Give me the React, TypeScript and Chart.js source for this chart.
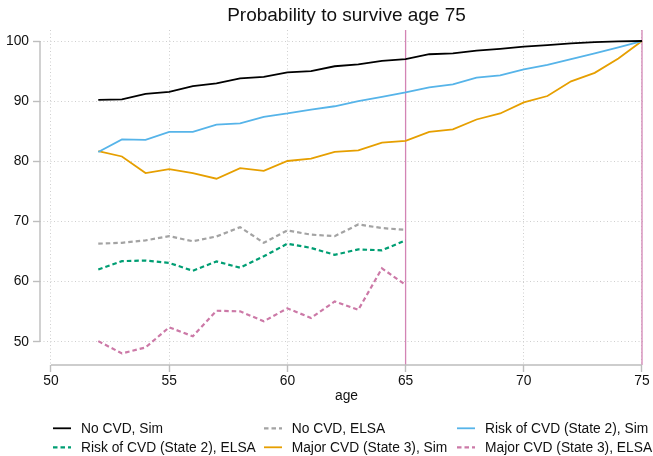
import React, { useEffect, useRef } from "react";
import { Chart, registerables } from "chart.js";

Chart.register(...registerables);

// ---- data ----
const simAges = [52, 53, 54, 55, 56, 57, 58, 59, 60, 61, 62, 63, 64, 65, 66, 67, 68, 69, 70, 71, 72, 73, 74, 75];
const elsaAges = [52, 53, 54, 55, 56, 57, 58, 59, 60, 61, 62, 63, 64, 65];

const noCvdSim = [90.2, 90.3, 91.2, 91.55, 92.5, 92.95, 93.8, 94.05, 94.8, 95.0, 95.8, 96.1, 96.7, 97.0, 97.8, 97.95, 98.4, 98.7, 99.05, 99.3, 99.6, 99.8, 99.95, 100];
const riskSim = [81.55, 83.65, 83.55, 84.9, 84.9, 86.1, 86.3, 87.4, 87.95, 88.6, 89.15, 90.0, 90.7, 91.45, 92.3, 92.8, 93.9, 94.3, 95.3, 96.05, 97.0, 97.95, 98.95, 100];
const majorSim = [81.7, 80.8, 78.05, 78.7, 78.05, 77.1, 78.85, 78.4, 80.05, 80.45, 81.55, 81.8, 83.1, 83.4, 84.9, 85.3, 86.95, 87.95, 89.8, 90.85, 93.3, 94.7, 97.1, 100];

const noCvdElsa = [66.3, 66.45, 66.85, 67.55, 66.7, 67.5, 69.05, 66.45, 68.5, 67.8, 67.55, 69.5, 68.9, 68.6];
const riskElsa = [62.0, 63.4, 63.5, 63.1, 61.8, 63.35, 62.3, 64.2, 66.3, 65.6, 64.45, 65.35, 65.2, 66.85];
const majorElsa = [50.1, 48.05, 49.05, 52.4, 50.9, 55.15, 55.05, 53.4, 55.55, 53.95, 56.7, 55.3, 62.2, 59.45];

const xTicks = [50, 55, 60, 65, 70, 75];
const yTicks = [50, 60, 70, 80, 90, 100];
const xLines = [65, 75];

const titleText = "Probability to survive age 75";
const xTitle = "age";

const FONT = '"Liberation Sans", Arial, Helvetica, sans-serif';
const AXIS_GRAY = "#bdbdbd";
const TEXT = "#111111";

type Series = { label: string; ages: number[]; values: number[]; color: string; dashed: boolean };

const series: Series[] = [
  { label: "No CVD, Sim", ages: simAges, values: noCvdSim, color: "#000000", dashed: false },
  { label: "No CVD, ELSA", ages: elsaAges, values: noCvdElsa, color: "#a3a3a3", dashed: true },
  { label: "Risk of CVD (State 2), Sim", ages: simAges, values: riskSim, color: "#56B4E9", dashed: false },
  { label: "Risk of CVD (State 2), ELSA", ages: elsaAges, values: riskElsa, color: "#009E73", dashed: true },
  { label: "Major CVD (State 3), Sim", ages: simAges, values: majorSim, color: "#E69F00", dashed: false },
  { label: "Major CVD (State 3), ELSA", ages: elsaAges, values: majorElsa, color: "#CC79A7", dashed: true },
];

const DASH = [4.5, 3];

const decor = {
  id: "decor",
  beforeDatasetsDraw(chart: any) {
    const ctx = chart.ctx;
    const { top, bottom, left } = chart.chartArea;
    const xs = chart.scales.x;
    const ys = chart.scales.y;
    ctx.save();
    // reference lines
    ctx.strokeStyle = "#d384b4";
    ctx.lineWidth = 1.3;
    xLines.forEach((v) => {
      const px = xs.getPixelForValue(v);
      ctx.beginPath();
      ctx.moveTo(px, top);
      ctx.lineTo(px, bottom);
      ctx.stroke();
    });
    // axis lines spanning tick range
    ctx.strokeStyle = AXIS_GRAY;
    ctx.lineWidth = 1.4;
    ctx.beginPath();
    ctx.moveTo(left, ys.getPixelForValue(yTicks[yTicks.length - 1]));
    ctx.lineTo(left, ys.getPixelForValue(yTicks[0]));
    ctx.stroke();
    ctx.beginPath();
    ctx.moveTo(xs.getPixelForValue(xTicks[0]), bottom);
    ctx.lineTo(xs.getPixelForValue(xTicks[xTicks.length - 1]), bottom);
    ctx.stroke();
    ctx.restore();
  },
  afterDraw(chart: any) {
    const ctx = chart.ctx;
    const xs = chart.scales.x;
    const cx = (xs.getPixelForValue(xTicks[0]) + xs.getPixelForValue(xTicks[xTicks.length - 1])) / 2;
    ctx.save();
    ctx.fillStyle = TEXT;
    ctx.textBaseline = "alphabetic";
    ctx.textAlign = "center";
    ctx.font = `19px ${FONT}`;
    ctx.fillText(titleText, cx, 20.7);
    ctx.font = `13.8px ${FONT}`;
    ctx.fillText(xTitle, cx, 400);

    // legend
    const symX = [53, 264, 457];
    const txtX = [81, 291.7, 485];
    const rowY = [432.7, 451.7];
    ctx.textAlign = "left";
    series.forEach((s, i) => {
      const col = i % 3;
      const row = Math.floor(i / 3);
      const by = rowY[row];
      const sy = by - 4.4;
      ctx.strokeStyle = s.color;
      ctx.lineWidth = s.dashed ? 2.2 : 1.8;
      ctx.setLineDash(s.dashed ? DASH : []);
      ctx.beginPath();
      ctx.moveTo(symX[col], sy);
      ctx.lineTo(symX[col] + 18, sy);
      ctx.stroke();
      ctx.setLineDash([]);
      ctx.fillStyle = TEXT;
      ctx.fillText(s.label, txtX[col], by);
    });
    ctx.restore();
  },
};

export default function App() {
  const ref = useRef<HTMLCanvasElement>(null);
  useEffect(() => {
    const canvas = ref.current;
    if (!canvas) return;
    const chart = new Chart(canvas, {
      type: "line",
      data: {
        datasets: series.map((s) => ({
          label: s.label,
          data: s.ages.map((a, i) => ({ x: a, y: s.values[i] })),
          borderColor: s.color,
          backgroundColor: s.color,
          borderWidth: s.dashed ? 2.2 : 1.8,
          borderDash: s.dashed ? DASH : [],
          pointRadius: 0,
          tension: 0,
          fill: false,
        })),
      },
      options: {
        animation: false,
        responsive: false,
        devicePixelRatio: 1,
        layout: { padding: { top: 30, right: 8, left: 0, bottom: 0 } },
        plugins: {
          legend: { display: false },
          title: { display: false },
          tooltip: { enabled: false },
        },
        scales: {
          x: {
            type: "linear",
            min: 49.535,
            max: 75.127,
            afterFit: (s: any) => {
              s.height = 91;
            },
            afterBuildTicks: (s: any) => {
              s.ticks = xTicks.map((v) => ({ value: v }));
            },
            ticks: {
              font: { family: FONT, size: 13.8 },
              color: TEXT,
              padding: 1,
              maxRotation: 0,
              autoSkip: false,
              callback: (v: any) => String(v),
            },
            grid: {
              color: "#cfcfcf",
              lineWidth: 1,
              drawTicks: true,
              tickLength: 7,
              tickColor: AXIS_GRAY,
              tickWidth: 1.4,
              tickBorderDash: [],
            },
            border: { display: false, dash: [1, 2.5] },
          },
          y: {
            type: "linear",
            min: 46.13,
            max: 101.83,
            afterFit: (s: any) => {
              s.width = 40;
            },
            afterBuildTicks: (s: any) => {
              s.ticks = yTicks.map((v) => ({ value: v }));
            },
            ticks: {
              font: { family: FONT, size: 13.8 },
              color: TEXT,
              padding: 4,
              autoSkip: false,
              callback: (v: any) => String(v),
            },
            grid: {
              color: "#cfcfcf",
              lineWidth: 1,
              drawTicks: true,
              tickLength: 7,
              tickColor: AXIS_GRAY,
              tickWidth: 1.4,
              tickBorderDash: [],
            },
            border: { display: false, dash: [1, 2.5] },
          },
        },
      },
      plugins: [decor],
    } as any);
    return () => chart.destroy();
  }, []);
  return (
    <div style={{ position: "fixed", left: 0, top: 0, width: 653, height: 456, background: "#ffffff" }}>
      <canvas ref={ref} width={653} height={456} style={{ display: "block", width: 653, height: 456 }} />
    </div>
  );
}
